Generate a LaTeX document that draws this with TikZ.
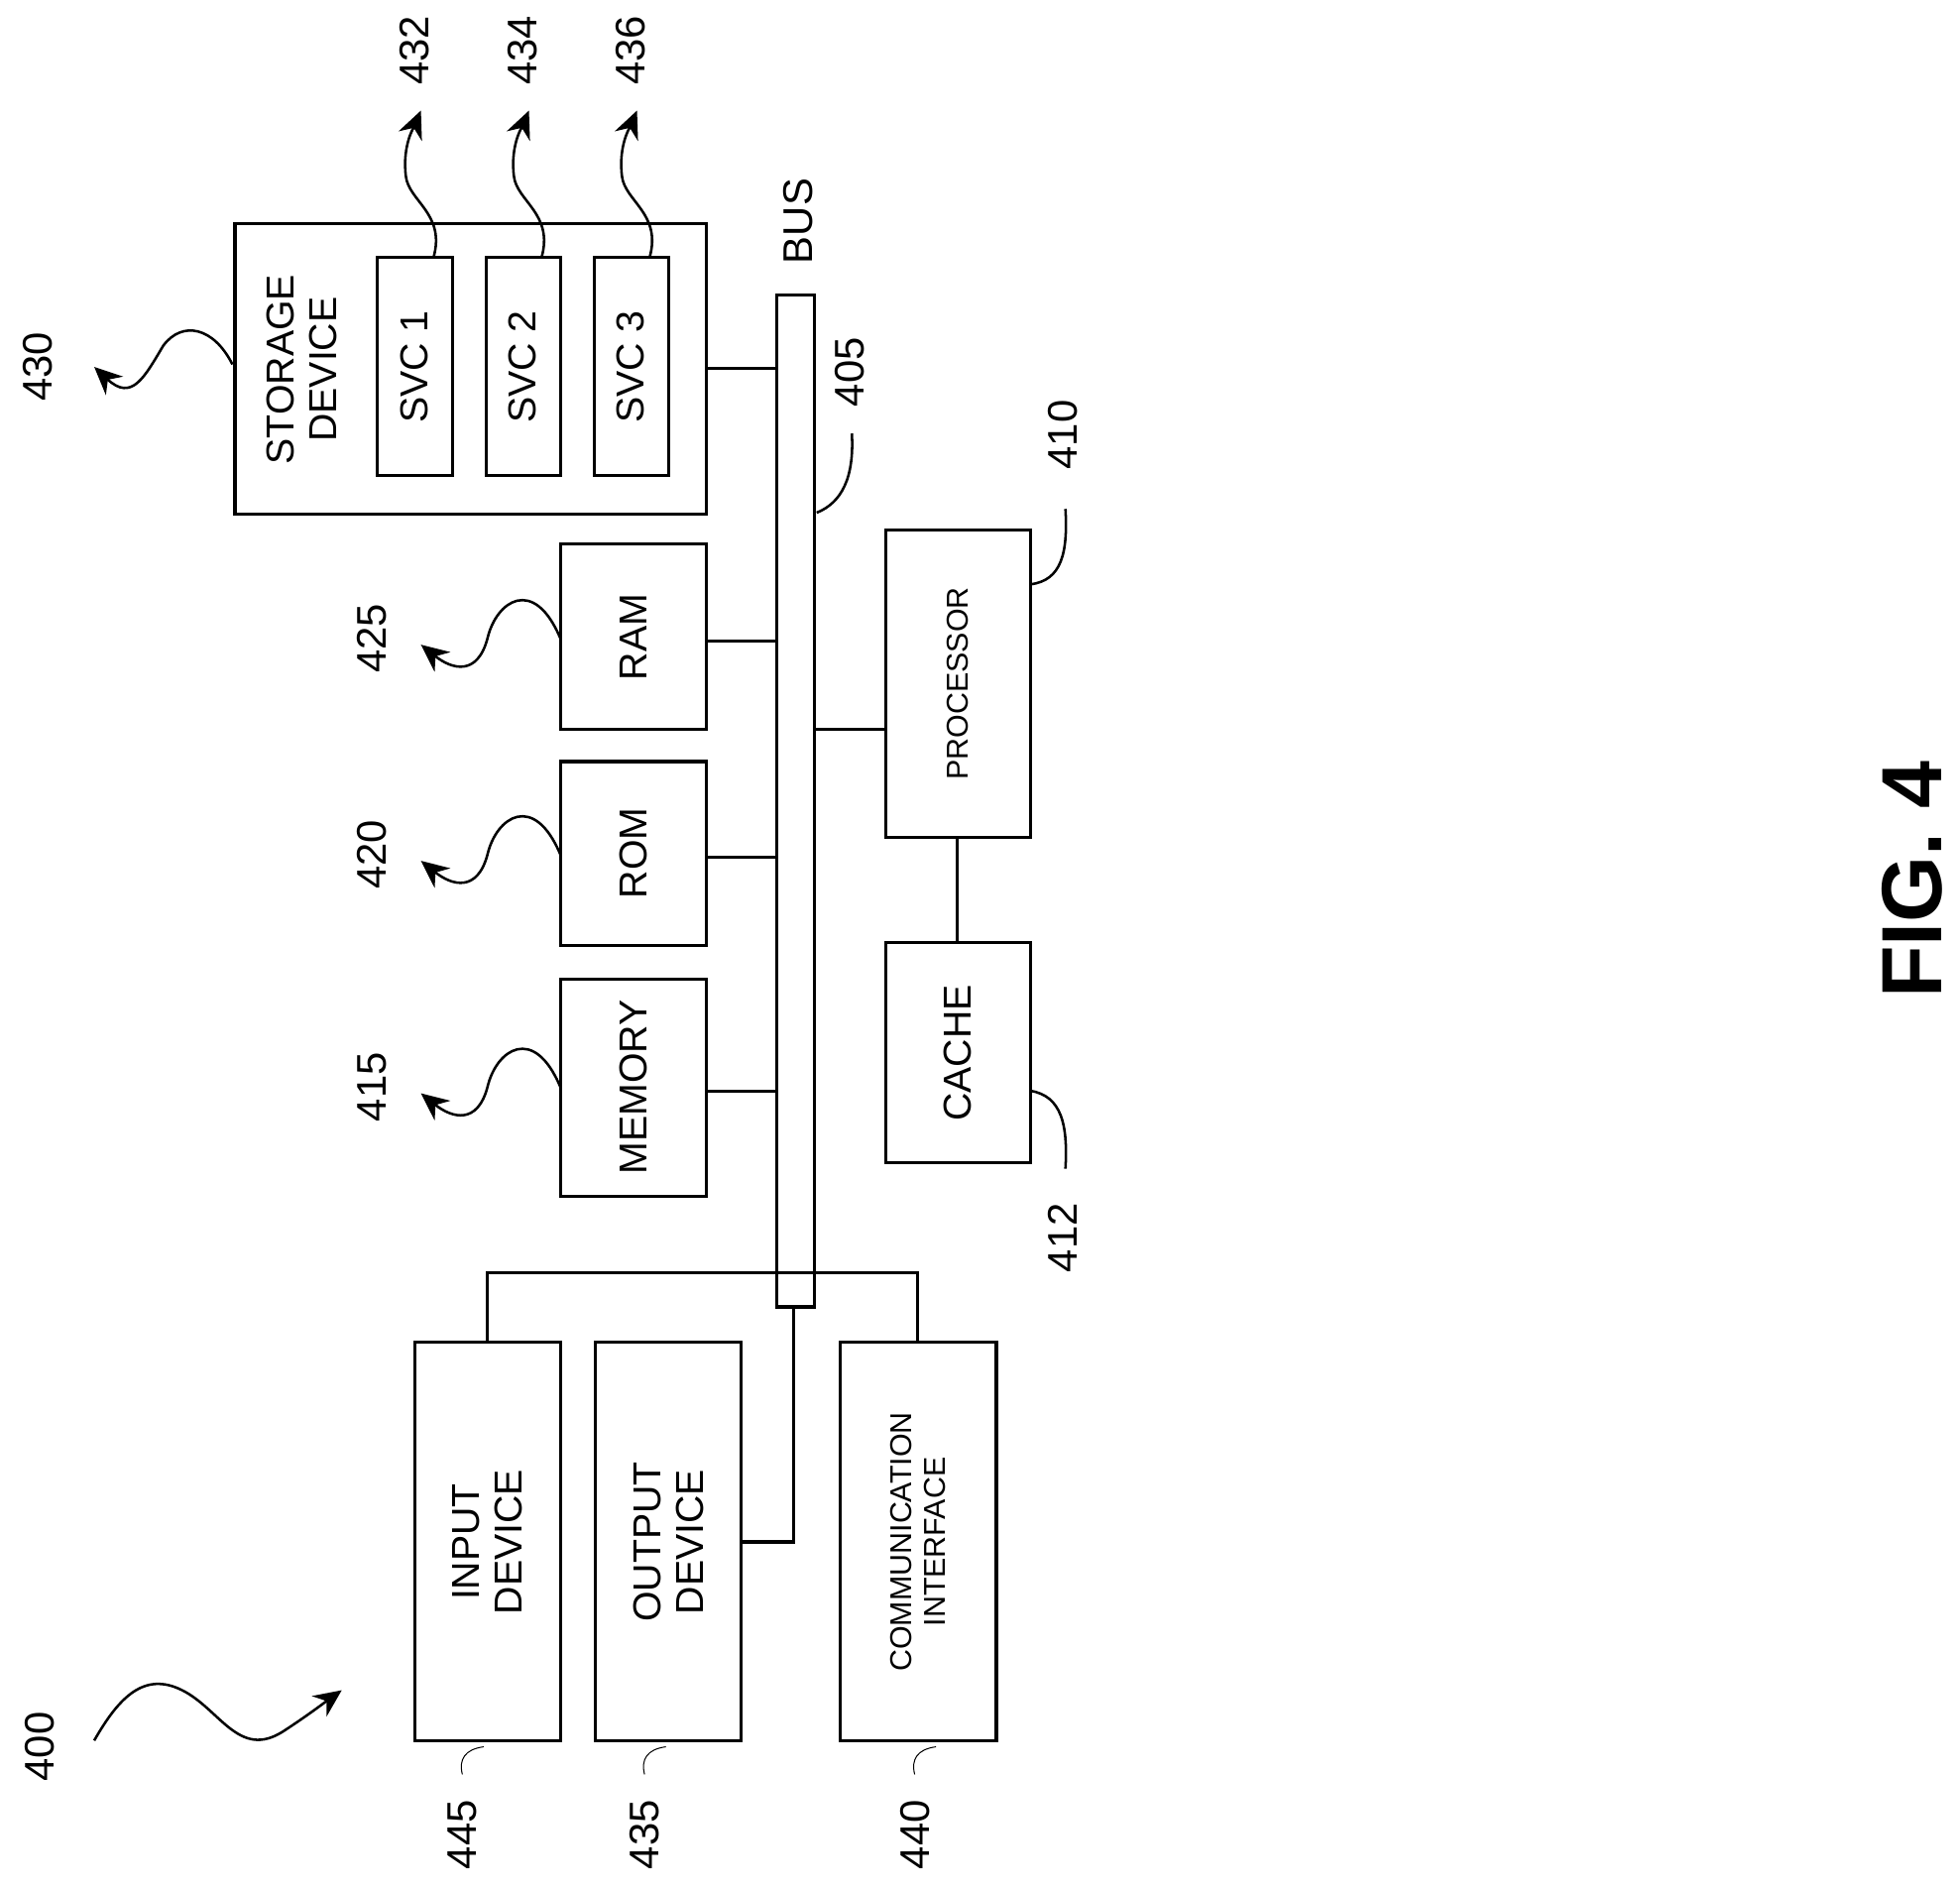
\documentclass[tikz,border=0pt]{standalone}
\usepackage{fontspec}
\setmainfont{Liberation Sans}
\usetikzlibrary{arrows.meta}
\begin{document}
\begin{tikzpicture}[x=1pt,y=-1pt,line width=2.4pt,
 box/.style={draw,minimum width=0,inner sep=0},
 txt/.style={rotate=90,font=\fontsize{31}{34}\selectfont,align=center},
 small/.style={rotate=90,font=\fontsize{24}{27}\selectfont,align=center},
 lbl/.style={rotate=90,font=\fontsize{33}{36}\selectfont},
 arr/.style={line width=2pt,-{Stealth[length=22pt,width=20pt]}},
 lead/.style={line width=2pt},
 thin/.style={line width=0.8pt}]
\useasboundingbox (0,0) rectangle (1560,1503);
% storage
\draw (187,178) rectangle (562,409);
\node[txt] (stor) at (240,294) {STORAGE\\DEVICE};
\draw (300,205) rectangle (360,378); \node[txt] (s1) at (330,292) {SVC 1};
\draw (387,205) rectangle (446,378); \node[txt] (s2) at (416,292) {SVC 2};
\draw (473,205) rectangle (532,378); \node[txt] (s3) at (502,292) {SVC 3};
\foreach \x/\n in {345/432,431/434,517/436}{
 \draw[arr] (\x,205) .. controls (\x+10,170) and (\x-20,160) .. (\x-22,140) .. controls (\x-25,115) and (\x-15,100) .. (\x-10,88);
 \node[lbl] at (\x-15,40) {\n};}
% bus
\draw (618,235) rectangle (648,1040);
\node[lbl] at (635,176) {BUS};
\node[lbl] at (676,296) {405};
\draw[lead] (650,408) .. controls (670,400) and (680,380) .. (678,345);
\draw (562,293) -- (618,293);
% ram rom memory
\draw (446,433) rectangle (562,580); \node[txt] at (504,507) {RAM};
\draw (446,606) rectangle (562,752); \node[txt] at (504,679) {ROM};
\draw (446,779) rectangle (562,952); \node[txt] at (504,865) {MEMORY};
\draw (562,510) -- (618,510);
\draw (562,682) -- (618,682);
\draw (562,868) -- (618,868);
\foreach \y/\n in {508/425,680/420,865/415}{
 \draw[arr] (446,\y) .. controls (425,\y-50) and (395,\y-30) .. (388,\y) .. controls (380,\y+30) and (360,\y+25) .. (335,\y+5);
 \node[lbl] at (296,\y) {\n};}
% storage label
\draw[arr] (185,290) .. controls (170,260) and (145,255) .. (130,275) .. controls (115,300) and (105,320) .. (75,292);
\node[lbl] at (30,292) {430};
% processor cache
\draw (705,422) rectangle (820,666); \node[small] at (762,544) {PROCESSOR};
\draw (705,750) rectangle (820,925); \node[txt] at (762,838) {CACHE};
\draw (648,580) -- (705,580);
\draw (762,666) -- (762,750);
\draw[lead] (820,465) .. controls (845,462) and (850,440) .. (848,405);
\node[lbl] at (846,346) {410};
\draw[lead] (820,868) .. controls (845,872) and (850,895) .. (848,930);
\node[lbl] at (846,985) {412};
% bottom
\draw (388,1068) -- (388,1013) -- (730,1013) -- (730,1068);
\draw (632,1040) -- (632,1227) -- (590,1227);
\draw (330,1068) rectangle (446,1385); \node[txt] at (388,1227) {INPUT\\DEVICE};
\draw (474,1068) rectangle (590,1385); \node[txt] at (532,1227) {OUTPUT\\DEVICE};
\draw (669,1068) rectangle (793,1385); \node[small] at (731,1227) {COMMUNICATION\\INTERFACE};
\foreach \x/\n in {385/445,530/435,745/440}{
 \draw[thin] (\x,1390) .. controls (\x-15,1392) and (\x-20,1400) .. (\x-17,1412);
 \node[lbl] at (\x-17,1460) {\n};}
% 400
\node[lbl] at (32,1390) {400};
\draw[arr] (75,1385) .. controls (95,1350) and (115,1330) .. (145,1345) .. controls (175,1360) and (190,1400) .. (225,1378) .. controls (245,1365) and (258,1355) .. (272,1345);
\node[rotate=90,font=\fontsize{68}{72}\selectfont\bfseries] at (1522,700) {FIG. 4};
\end{tikzpicture}
\end{document}
